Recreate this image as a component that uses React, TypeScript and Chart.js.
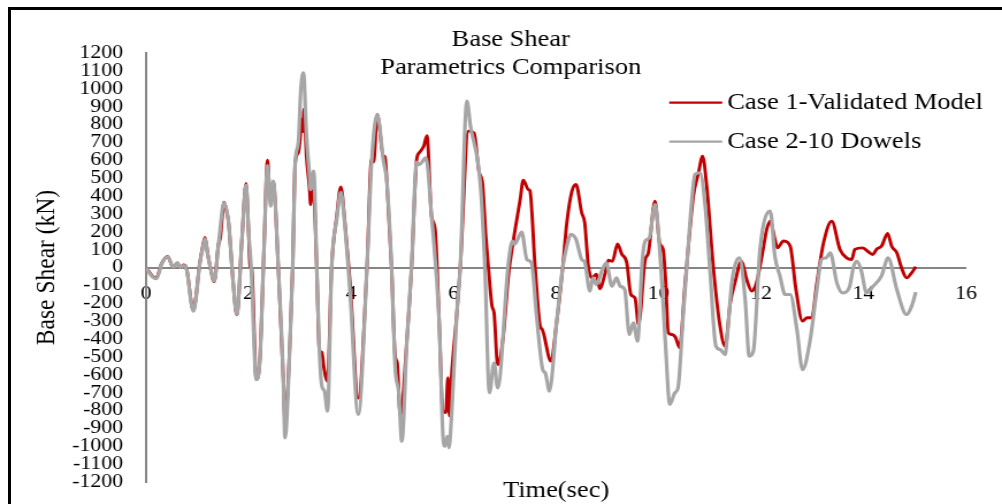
import React, { useEffect, useRef } from "react";
import { Chart, registerables } from "chart.js";

Chart.register(...registerables);

const FONT = "'Liberation Serif', 'Times New Roman', serif";

const chartTitleLines = ["Base Shear", "Parametrics Comparison"];
const xAxisTitle = "Time(sec)";
const yAxisTitle = "Base Shear (kN)";
const seriesNames = ["Case 1-Validated Model", "Case 2-10 Dowels"];
const seriesColors = ["#C00000", "#A6A6A6"];

// Case 1 - Validated Model
const case1Time = [
  0, 0.05, 0.11, 0.2, 0.3, 0.42, 0.53, 0.61, 0.67, 0.73, 0.79, 0.89, 0.92, 0.97,
  1.04, 1.1, 1.15, 1.2, 1.25, 1.33, 1.41, 1.45, 1.52, 1.58, 1.61, 1.7, 1.77, 1.87,
  1.95, 2.0, 2.03, 2.06, 2.15, 2.22, 2.3, 2.37, 2.42, 2.48, 2.58, 2.68, 2.71, 2.81,
  2.86, 2.91, 2.97, 3.0, 3.04, 3.06, 3.08, 3.13, 3.19, 3.21, 3.25, 3.33, 3.38, 3.43,
  3.47, 3.54, 3.62, 3.72, 3.8, 3.88, 3.98, 4.14, 4.31, 4.4, 4.44, 4.51, 4.63, 4.66,
  4.7, 4.79, 4.86, 4.9, 4.96, 5.09, 5.18, 5.28, 5.33, 5.42, 5.48, 5.57, 5.64, 5.72,
  5.79, 5.85, 5.89, 5.92, 5.96, 6.06, 6.13, 6.29, 6.4, 6.5, 6.56, 6.63, 6.68, 6.75,
  6.79, 6.86, 6.97, 7.07, 7.17, 7.3, 7.36, 7.46, 7.49, 7.59, 7.69, 7.73, 7.9, 8.01,
  8.13, 8.21, 8.31, 8.39, 8.5, 8.56, 8.63, 8.7, 8.79, 8.85, 8.96, 9.02, 9.1, 9.2,
  9.28, 9.38, 9.46, 9.54, 9.61, 9.74, 9.8, 9.93, 10.02, 10.09, 10.14, 10.19, 10.26,
  10.33, 10.41, 10.52, 10.68, 10.78, 10.86, 10.94, 11.07, 11.2, 11.3, 11.4, 11.49,
  11.62, 11.72, 11.82, 11.92, 12.04, 12.11, 12.18, 12.27, 12.32, 12.44, 12.57, 12.68,
  12.81, 12.9, 12.99, 13.09, 13.22, 13.38, 13.54, 13.67, 13.77, 13.83, 13.98, 14.08,
  14.18, 14.26, 14.35, 14.47, 14.55, 14.65, 14.74, 14.84, 14.94, 15.02,
];
const case1Values = [
  0, -20, -45, -58, 20, 62, 0, 26, 0, 14, -8, -210, -240, -170,
  10, 110, 168, 80, 5, -80, 125, 170, 365, 300, 250, -90, -265, 160,
  470, 200, 5, -5, -625, -515, 100, 600, 380, 480, 0, -640, -860, -400,
  0, 586, 642, 700, 830, 760, 885, 620, 436, 352, 511, 0, -459, -476,
  -560, -636, 0, 287, 450, 250, -85, -730, 0, 604, 590, 856, 623, 620,
  474, 0, -496, -533, -830, -403, 0, 604, 642, 680, 738, 287, 212, -310,
  -804, -811, -617, -830, -608, -272, 0, 763, 753, 530, 483, 175, 0, -216,
  -253, -543, -384, -48, 157, 380, 489, 436, 430, 7, -328, -346, -524, -310,
  0, 250, 427, 464, 306, 250, 7, -58, -37, -119, -30, 41, 35, 132,
  76, 26, -151, -170, -319, 45, 80, 371, 138, 101, -85, -365, -375,
  -390, -449, -86, 399, 530, 623, 455, 0, -328, -440, -198, -86,
  35, -67, -132, -76, 101, 212, 259, 157, 110, 148, 119, -120,
  -300, -281, -281, -86, 138, 259, 101, 54, 45, 101, 110, 91,
  73, 104, 119, 190, 119, 82, 0, -58, -30, 4,
];

// Case 2 - 10 Dowels
const case2Time = [
  0, 0.05, 0.11, 0.2, 0.31, 0.42, 0.53, 0.61, 0.67, 0.73, 0.79, 0.89, 0.92, 0.97,
  1.04, 1.1, 1.15, 1.2, 1.25, 1.33, 1.41, 1.52, 1.61, 1.7, 1.77, 1.87, 1.95, 2.0,
  2.05, 2.15, 2.22, 2.3, 2.37, 2.43, 2.48, 2.58, 2.68, 2.71, 2.81, 2.86, 2.91, 2.97,
  3.02, 3.07, 3.13, 3.19, 3.21, 3.27, 3.33, 3.38, 3.43, 3.48, 3.54, 3.62, 3.72, 3.8,
  3.88, 3.98, 4.14, 4.31, 4.4, 4.51, 4.63, 4.7, 4.79, 4.86, 4.93, 4.99, 5.09, 5.18,
  5.28, 5.33, 5.46, 5.57, 5.72, 5.79, 5.83, 5.88, 5.91, 5.96, 6.06, 6.13, 6.26, 6.33,
  6.52, 6.61, 6.7, 6.79, 6.86, 7.07, 7.15, 7.19, 7.33, 7.43, 7.52, 7.62, 7.74, 7.79,
  7.87, 8.01, 8.13, 8.21, 8.29, 8.39, 8.5, 8.56, 8.66, 8.72, 8.79, 8.89, 8.98, 9.09,
  9.18, 9.25, 9.34, 9.43, 9.51, 9.59, 9.68, 9.74, 9.82, 9.93, 10.04, 10.13, 10.22,
  10.32, 10.38, 10.48, 10.55, 10.65, 10.71, 10.81, 10.91, 11.0, 11.12, 11.2, 11.3,
  11.33, 11.43, 11.5, 11.58, 11.69, 11.77, 11.85, 11.98, 12.18, 12.27, 12.37, 12.47,
  12.57, 12.7, 12.81, 12.96, 13.09, 13.18, 13.27, 13.35, 13.48, 13.59, 13.72, 13.81,
  13.87, 13.95, 14.06, 14.19, 14.35, 14.48, 14.65, 14.84, 14.94, 15.02,
];
const case2Values = [
  0, -25, -48, -63, 26, 60, 0, 26, 0, 11, -11, -216, -244, -180,
  7, 100, 160, 75, 7, -76, 119, 362, 250, -86, -263, 157, 459, 200,
  0, -627, -515, 100, 570, 343, 483, 0, -645, -953, -403, 0, 586, 700,
  1000, 1089, 735, 511, 436, 539, 0, -459, -664, -690, -804, 0, 270, 420,
  230, -140, -822, 0, 590, 856, 600, 474, 0, -560, -700, -972, -403, 0,
  590, 576, 613, 287, -310, -925, -1000, -945, -1008, -832, -272, 0, 931, 790,
  474, 9, -701, -533, -673, 26, 148, 130, 198, 45, 26, -272, -571, -590,
  -692, -310, 0, 119, 185, 157, 45, 30, -132, -58, -95, -20, 26, -104,
  -58, -104, -123, -375, -310, -412, 26, 148, 166, 352, 26, -403, -766,
  -701, -673, -272, 0, 380, 520, 530, 343, 0, -440, -459, -487,
  -420, -86, 20, 54, -179, -496, -468, 101, 315, 63, -48, -151,
  -151, -347, -571, -403, -123, 45, 54, 82, -86, -142, -114, 9,
  35, -11, -142, -104, -48, 54, -123, -263, -216, -138,
];

const xMin = 0;
const xMax = 16;
const xStep = 2;
const yMin = -1200;
const yMax = 1200;
const yStep = 100;

const CANVAS_W = 871;
const CANVAS_H = 504;
const SCALE_X = 1002 / CANVAS_W;

const overlayPlugin = {
  id: "overlayText",
  afterDraw(chart: any) {
    const ctx = chart.ctx;
    const area = chart.chartArea;
    ctx.save();
    ctx.fillStyle = "#000";
    ctx.textBaseline = "middle";
    ctx.font = `23px ${FONT}`;
    ctx.textAlign = "center";
    ctx.fillText(chartTitleLines[0], 444, 40);
    ctx.fillText(chartTitleLines[1], 444, 68);
    ctx.fillText(xAxisTitle, (area.left + area.right) / 2, 490.5);
    const rows = [102.7, 141.7];
    ctx.textAlign = "left";
    seriesNames.forEach((name, i) => {
      const y = rows[i];
      ctx.strokeStyle = seriesColors[i];
      ctx.lineWidth = 2.2;
      ctx.beginPath();
      ctx.moveTo(581.7, y);
      ctx.lineTo(627.8, y);
      ctx.stroke();
      ctx.fillStyle = "#000";
      ctx.fillText(name, 632.2, y + 0.5);
    });
    ctx.restore();
  },
};

export default function App() {
  const canvasRef = useRef<HTMLCanvasElement | null>(null);

  useEffect(() => {
    if (!canvasRef.current) return;
    const d1 = case1Time.map((t, i) => ({ x: t, y: case1Values[i] }));
    const d2 = case2Time.map((t, i) => ({ x: t, y: case2Values[i] }));
    const chart = new Chart(canvasRef.current, {
      type: "line",
      data: {
        datasets: [
          {
            label: seriesNames[0],
            data: d1,
            borderColor: seriesColors[0],
            backgroundColor: seriesColors[0],
            borderWidth: 2.9,
            pointRadius: 0,
            cubicInterpolationMode: "monotone",
            order: 1,
          },
          {
            label: seriesNames[1],
            data: d2,
            borderColor: seriesColors[1],
            backgroundColor: seriesColors[1],
            borderWidth: 3.2,
            pointRadius: 0,
            cubicInterpolationMode: "monotone",
            order: 0,
          },
        ],
      },
      options: {
        animation: false,
        responsive: false,
        maintainAspectRatio: false,
        devicePixelRatio: 1,
        layout: { padding: { left: 17, right: 31.3, top: 53, bottom: 22 } },
        plugins: {
          legend: { display: false },
          title: { display: false },
          tooltip: { enabled: false },
        },
        scales: {
          x: {
            type: "linear",
            min: xMin,
            max: xMax,
            position: { y: 0 },
            afterFit: (scale: any) => {
              scale.height = 0;
            },
            grid: { display: true, drawOnChartArea: false, drawTicks: false, color: "rgba(0,0,0,0)" },
            border: { display: true, color: "#858585", width: 2 },
            ticks: {
              stepSize: xStep,
              autoSkip: false,
              maxRotation: 0,
              padding: 15.5,
              color: "#000",
              font: { family: FONT, size: 19 },
            },
          },
          y: {
            type: "linear",
            min: yMin,
            max: yMax,
            position: "left",
            afterFit: (scale: any) => {
              scale.width = 110;
            },
            grid: {
              display: true,
              drawOnChartArea: false,
              drawTicks: true,
              tickLength: 13,
              color: "rgba(0,0,0,0)",
            },
            border: { display: true, color: "#858585", width: 2 },
            title: {
              display: true,
              text: yAxisTitle,
              color: "#000",
              font: { family: FONT, size: 23.5, lineHeight: 1.2 },
              padding: { top: 9.8, bottom: 0 },
            },
            ticks: {
              stepSize: yStep,
              autoSkip: false,
              padding: 7,
              color: "#000",
              font: { family: FONT, size: 19 },
              callback: (v: any) => String(v),
            },
          },
        },
      },
      plugins: [overlayPlugin],
    } as any);
    return () => chart.destroy();
  }, []);

  return (
    <div style={{ position: "absolute", left: 0, top: 0, width: 1002, height: 504, overflow: "hidden", background: "#fff" }}>
      <div
        style={{
          position: "absolute",
          left: 0,
          top: 0,
          width: CANVAS_W,
          height: CANVAS_H,
          transform: `scaleX(${SCALE_X})`,
          transformOrigin: "0 0",
        }}
      >
        <canvas
          ref={canvasRef}
          width={CANVAS_W}
          height={CANVAS_H}
          style={{ display: "block", width: CANVAS_W, height: CANVAS_H }}
        />
      </div>
      <div
        style={{
          position: "absolute",
          left: 8,
          top: 6.5,
          width: 1100,
          height: 600,
          borderLeft: "3px solid #000",
          borderTop: "3px solid #000",
          pointerEvents: "none",
        }}
      />
    </div>
  );
}
